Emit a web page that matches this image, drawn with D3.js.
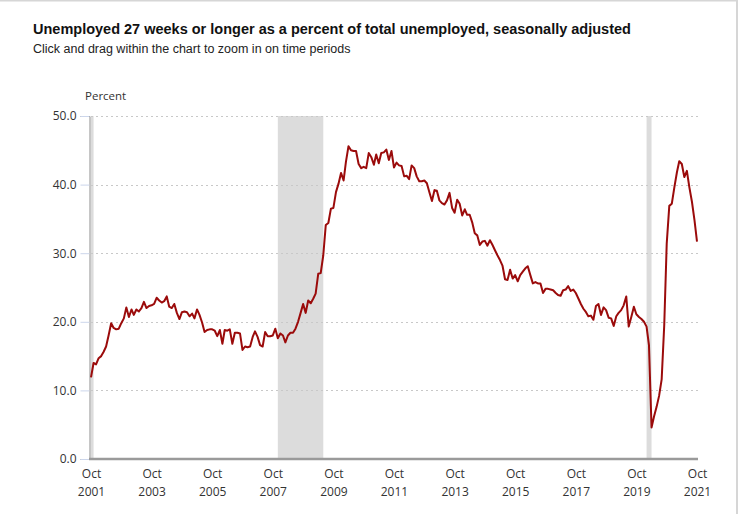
<!DOCTYPE html>
<html>
<head>
<meta charset="UTF-8">
<title>Long-term unemployed share</title>
<script src="https://d3js.org/d3.v7.min.js"></script>
<style>
  body { margin: 0; background: #fff; }
  svg { display: block; }
</style>
</head>
<body>
<svg width="740" height="514"></svg>
<script>
// monthly values, Oct 2001 onward (percent)
const share2001to2006 = [
  11.9, 14.0, 13.8, 14.7, 15.0, 15.6, 16.4, 18.0, 19.8, 19.1,
  18.9, 19.0, 19.8, 20.5, 22.1, 20.7, 21.8, 21.0, 21.8, 21.5,
  22.0, 22.9, 22.0, 22.3, 22.4, 22.6, 23.5, 23.1, 22.8, 23.0,
  23.7, 22.2, 22.0, 22.6, 21.3, 20.4, 21.4, 21.5, 21.4, 20.8,
  21.2, 20.5, 21.8, 21.0, 19.9, 18.5, 18.8, 18.9, 18.9, 18.7,
  17.9, 18.8, 16.8, 18.8, 18.7, 18.9, 16.8, 18.4, 18.4, 18.3
];
const share2006to2011 = [
  15.9, 16.4, 16.3, 16.4, 17.8, 18.6, 17.8, 16.6, 16.4, 18.5,
  17.9, 17.9, 18.0, 19.0, 17.6, 18.3, 18.0, 17.0, 18.0, 18.4,
  18.4, 19.0, 20.0, 21.3, 22.6, 21.3, 23.1, 22.7, 23.4, 24.1,
  27.0, 27.1, 29.7, 34.1, 34.4, 36.5, 36.6, 38.9, 40.1, 41.7,
  40.6, 43.3, 45.6, 45.0, 44.9, 44.9, 43.0, 42.4, 42.6, 42.4,
  44.6, 44.0, 42.9, 44.4, 43.1, 44.6, 44.7, 45.1, 43.6, 44.9
];
const share2011to2016 = [
  42.5, 43.2, 42.8, 42.7, 41.2, 41.3, 40.8, 42.8, 42.4, 41.2,
  40.5, 40.5, 40.6, 40.2, 38.9, 37.6, 39.2, 39.1, 37.7, 37.3,
  37.1, 37.7, 38.8, 36.6, 35.9, 37.8, 37.2, 35.5, 36.4, 35.6,
  35.6, 34.5, 32.9, 32.6, 31.2, 31.7, 31.8, 31.1, 31.9, 31.2,
  30.4, 29.7, 29.0, 28.2, 26.2, 26.1, 27.6, 26.3, 26.8, 25.9,
  26.8, 27.3, 27.8, 28.1, 26.8, 25.6, 25.8, 25.6, 25.6, 24.2
];
const share2016to2021 = [
  24.8, 24.8, 24.7, 24.6, 24.2, 23.9, 23.8, 24.6, 24.7, 25.2,
  24.5, 24.7, 24.2, 23.4, 22.6, 21.9, 21.4, 20.8, 20.9, 20.3,
  22.3, 22.6, 21.0, 22.1, 21.7, 20.6, 20.5, 19.4, 20.8, 21.3,
  21.7, 22.4, 23.7, 19.3, 20.7, 22.2, 21.1, 20.7, 20.4, 20.0,
  19.3, 16.6, 4.6, 6.2, 7.6, 9.2, 11.6, 19.5, 31.4, 36.9,
  37.2, 39.6, 41.8, 43.4, 43.0, 41.1, 42.0, 39.6, 37.5, 34.8,
  31.7
];

const recessions = [
  ["2001-03", "2001-11"],
  ["2007-12", "2009-06"],
  ["2020-02", "2020-04"]
];
const tickYears = [2001, 2003, 2005, 2007, 2009, 2011, 2013, 2015, 2017, 2019, 2021];
const yTicks = [0, 10, 20, 30, 40, 50];

const values = [].concat(share2001to2006, share2006to2011, share2011to2016, share2016to2021);
const parseMonth = d3.timeParse("%Y-%m");
const first = parseMonth("2001-10");
const series = values.map((v, i) => ({ date: d3.timeMonth.offset(first, i), value: v }));

const svg = d3.select("svg");

// frame
svg.append("rect")
  .attr("x", -2).attr("y", 0.5).attr("width", 739).attr("height", 530)
  .attr("fill", "none").attr("stroke", "#d6d6d6").attr("stroke-width", 2);

svg.append("text")
  .attr("x", 33).attr("y", 34)
  .attr("font-family", "Liberation Sans, Arial, sans-serif")
  .attr("font-weight", "bold").attr("font-size", 14.5).attr("fill", "#111")
  .text("Unemployed 27 weeks or longer as a percent of total unemployed, seasonally adjusted");

svg.append("text")
  .attr("x", 33).attr("y", 53)
  .attr("font-family", "Liberation Sans, Arial, sans-serif")
  .attr("font-size", 12.5).attr("fill", "#222")
  .text("Click and drag within the chart to zoom in on time periods");

const x = d3.scaleTime()
  .domain([first, parseMonth("2021-10")])
  .range([91, 697]);
const y = d3.scaleLinear().domain([0, 50]).range([459, 116]);

const font = "Open Sans, sans-serif";

// recession bands
svg.append("g").selectAll("rect")
  .data(recessions)
  .join("rect")
  .attr("x", d => Math.max(x(parseMonth(d[0])), 91))
  .attr("y", y(50))
  .attr("width", d => x(parseMonth(d[1])) - Math.max(x(parseMonth(d[0])), 91))
  .attr("height", y(0) - y(50))
  .attr("fill", "#dcdcdc");

// grid
svg.append("g").selectAll("line")
  .data(yTicks.filter(d => d > 0))
  .join("line")
  .attr("x1", 91).attr("x2", 698)
  .attr("y1", d => Math.round(y(d)) + 0.5).attr("y2", d => Math.round(y(d)) + 0.5)
  .attr("stroke", "#c8c8c8").attr("stroke-dasharray", "2,3");

// y axis
const yAxis = svg.append("g")
  .attr("transform", "translate(89.5,0)")
  .call(d3.axisLeft(y).tickValues(yTicks).tickFormat(d3.format(".1f")).tickSize(9).tickPadding(4));
yAxis.select(".domain").attr("stroke", "#8c8c8c");
yAxis.selectAll(".tick line").attr("stroke", "#ccd6eb");
yAxis.selectAll(".tick text")
  .attr("font-family", font).attr("font-size", 12).attr("fill", "#333");

svg.append("text")
  .attr("x", 85).attr("y", 100)
  .attr("font-family", font).attr("font-size", 11.5).attr("fill", "#333")
  .text("Percent");

// x axis
const xAxis = svg.append("g")
  .attr("transform", "translate(0,459)")
  .call(d3.axisBottom(x)
    .tickValues(tickYears.map(yr => parseMonth(yr + "-10")))
    .tickSize(0).tickFormat(""));
xAxis.select(".domain").attr("stroke", "#9a9a9a").attr("stroke-width", 2.5)
  .attr("d", "M89,0H698");
xAxis.selectAll(".tick").each(function(d) {
  const t = d3.select(this).append("text")
    .attr("font-family", font).attr("font-size", 12).attr("fill", "#333")
    .attr("text-anchor", "middle");
  t.append("tspan").attr("x", 0).attr("y", 19).text("Oct");
  t.append("tspan").attr("x", 0).attr("y", 37).text(d.getFullYear());
});

// line
svg.append("path")
  .datum(series)
  .attr("fill", "none")
  .attr("stroke", "#9b0b0b")
  .attr("stroke-width", 2)
  .attr("stroke-linejoin", "round")
  .attr("d", d3.line().x(d => x(d.date)).y(d => y(d.value)));
</script>
</body>
</html>
